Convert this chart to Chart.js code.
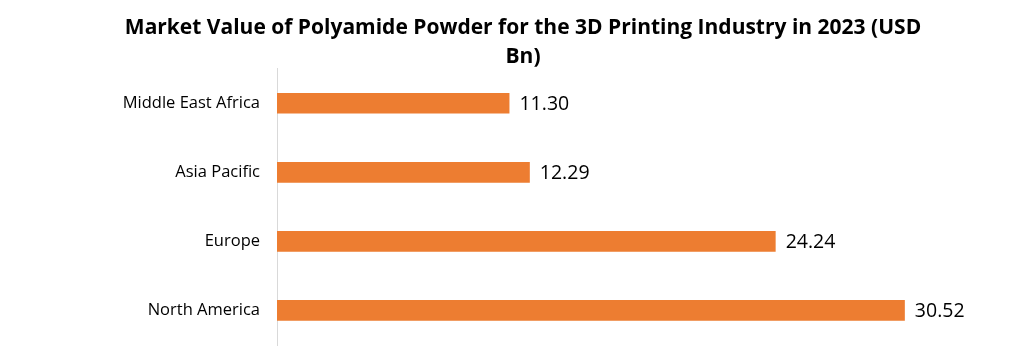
<!DOCTYPE html>
<html><head><meta charset="utf-8">
<script src="https://cdn.jsdelivr.net/npm/chart.js@4"></script>
<style>html,body{margin:0;padding:0;background:#fff}#wrap{width:1024px;height:358px}</style>
</head><body><div id="wrap"><canvas id="c" width="1024" height="358"></canvas></div>
<script>
const categories = ['Middle East Africa', 'Asia Pacific', 'Europe', 'North America'];
const values = [11.30, 12.29, 24.24, 30.52];
const valueLabels = ['11.30', '12.29', '24.24', '30.52'];
const titleLines = ['Market Value of Polyamide Powder for the 3D Printing Industry in 2023 (USD', 'Bn)'];

const labelPlugin = {
  id: 'valueLabels',
  afterDatasetsDraw(chart) {
    const ctx = chart.ctx;
    const meta = chart.getDatasetMeta(0);
    ctx.save();
    ctx.font = '19.5px "Open Sans", sans-serif';
    ctx.fillStyle = '#000';
    ctx.textAlign = 'left';
    ctx.textBaseline = 'middle';
    meta.data.forEach((bar, i) => {
      ctx.fillText(valueLabels[i], bar.x + 10, bar.y + 1);
    });
    ctx.restore();
  }
};

new Chart(document.getElementById('c'), {
  type: 'bar',
  data: {
    labels: categories,
    datasets: [{
      data: values,
      backgroundColor: '#ED7D31',
      borderWidth: 0,
      barPercentage: 0.3,
      categoryPercentage: 1
    }]
  },
  options: {
    indexAxis: 'y',
    responsive: false,
    animation: false,
    devicePixelRatio: 1,
    layout: { padding: { left: 49, right: 27, top: 0, bottom: 13 } },
    plugins: {
      legend: { display: false },
      tooltip: { enabled: false },
      title: {
        display: true,
        text: titleLines,
        color: '#000',
        font: { family: '"Open Sans", sans-serif', size: 21, weight: 'bold', lineHeight: 1.35 },
        padding: { top: 14, bottom: -2 }
      }
    },
    scales: {
      x: {
        min: 0, max: 35,
        display: false,
        grid: { display: false }
      },
      y: {
        grid: { display: false, drawTicks: false },
        border: { display: true, color: '#d9d9d9', width: 1 },
        ticks: {
          color: '#000',
          padding: 17,
          font: { family: '"Open Sans", sans-serif', size: 16.5 }
        },
        afterFit(scale) { scale.width = 228; scale.paddingTop = 0; scale.paddingBottom = 0; }
      }
    }
  },
  plugins: [labelPlugin]
});
</script></body></html>
